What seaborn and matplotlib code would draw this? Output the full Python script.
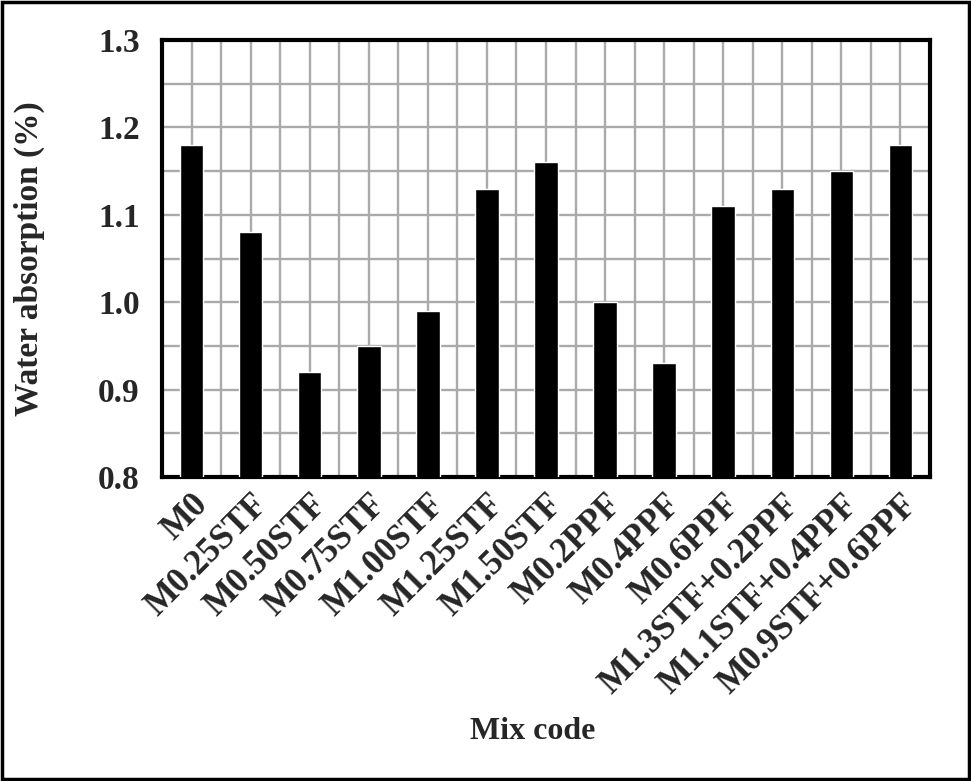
import matplotlib
matplotlib.use("Agg")
import matplotlib.pyplot as plt
import pandas as pd
import seaborn as sns
from matplotlib.patches import Rectangle
from matplotlib.ticker import MultipleLocator, FixedLocator

mix_codes = ["M0", "M0.25STF", "M0.50STF", "M0.75STF", "M1.00STF", "M1.25STF",
             "M1.50STF", "M0.2PPF", "M0.4PPF", "M0.6PPF", "M1.3STF+0.2PPF",
             "M1.1STF+0.4PPF", "M0.9STF+0.6PPF"]
water_absorption = [1.18, 1.08, 0.92, 0.95, 0.99, 1.13, 1.16, 1.00, 0.93, 1.11, 1.13, 1.15, 1.18]
y_ticks = [0.8, 0.9, 1.0, 1.1, 1.2, 1.3]

df = pd.DataFrame({"mix": mix_codes, "wa": water_absorption})

sns.set_style("white")
plt.rcParams["font.family"] = ["Liberation Serif", "DejaVu Serif"]
plt.rcParams["font.weight"] = "bold"

fig = plt.figure(figsize=(9.71, 7.81), dpi=100)
ax = fig.add_axes([0.1668, 0.3892, 0.791, 0.5596])

sns.barplot(data=df, x="mix", y="wa", color="black", width=0.4, saturation=1, ax=ax, zorder=3)

ax.set_ylim(0.8, 1.3)
ax.set_xlim(-0.5, len(mix_codes) - 0.5)
ax.yaxis.set_major_locator(FixedLocator(y_ticks))
ax.yaxis.set_minor_locator(MultipleLocator(0.05))
ax.set_yticklabels([f"{v:.1f}" for v in y_ticks])
ax.xaxis.set_minor_locator(FixedLocator([i + 0.5 for i in range(len(mix_codes) - 1)]))

ax.grid(True, which="both", color="#aaaaaa", linewidth=1.7, zorder=0)
ax.set_axisbelow(True)

for s in ax.spines.values():
    s.set_visible(True)
    s.set_color("black")
    s.set_linewidth(3)

ax.tick_params(axis="y", which="major", direction="in", length=7, width=3, labelsize=24, pad=16)
ax.tick_params(axis="y", which="minor", length=0)
ax.tick_params(axis="x", which="major", direction="out", length=6, width=3, labelsize=25, pad=2)
ax.tick_params(axis="x", which="minor", length=0)
plt.setp(ax.get_xticklabels(), rotation=45, ha="right", rotation_mode="anchor", fontweight="bold")
plt.setp(ax.get_yticklabels(), fontweight="bold")

ax.set_xlabel("Mix code", fontsize=23, fontweight="bold")
ax.set_ylabel("Water absorption (%)", fontsize=24, fontweight="bold")
ax.xaxis.set_label_coords(0.483, -0.55)
ax.yaxis.set_label_coords(-0.152, 0.5)

fig.patches.append(Rectangle((0.002, 0.002), 0.996, 0.996, transform=fig.transFigure,
                             fill=False, edgecolor="black", linewidth=2.5))

fig.savefig("out.png", dpi=100)
plt.close(fig)
